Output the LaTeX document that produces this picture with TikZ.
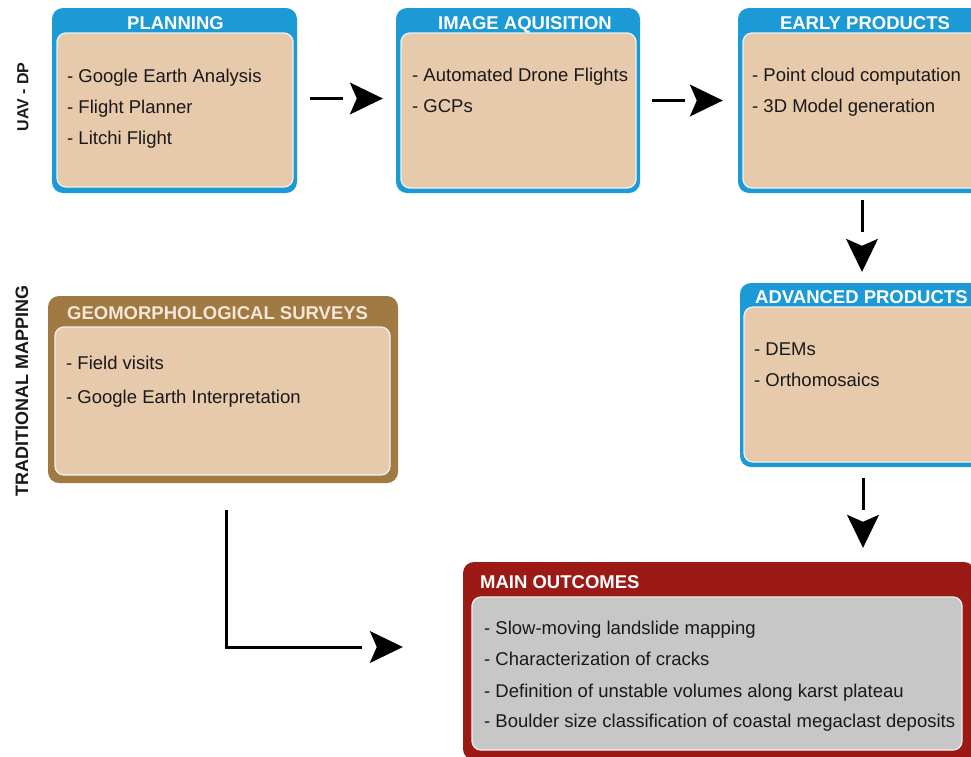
\documentclass[tikz,border=0pt]{standalone}
\usepackage{fontspec}
\setmainfont{Liberation Sans}
\usetikzlibrary{arrows.meta,calc}
\definecolor{uavblue}{RGB}{27,154,214}
\definecolor{beige}{RGB}{231,201,171}
\definecolor{brownf}{RGB}{160,121,67}
\definecolor{redf}{RGB}{155,26,22}
\definecolor{greyf}{RGB}{199,199,199}
\definecolor{txt}{RGB}{25,25,25}
\definecolor{cream}{RGB}{245,232,214}
\begin{document}
\begin{tikzpicture}[x=1pt,y=-1pt,
  outer/.style={rectangle, rounded corners=11pt, inner sep=0pt, draw=none},
  inner/.style={rectangle, rounded corners=9pt, inner sep=0pt, draw=white!88!gray, line width=1.3pt},
  title/.style={font=\bfseries\fontsize{18.5}{22}\selectfont, text=white, inner sep=0pt},
  item/.style={font=\fontsize{18.5}{22}\selectfont, text=txt, anchor=base west, inner sep=0pt},
  side/.style={font=\bfseries\fontsize{#1}{20}\selectfont, text=txt, rotate=90, inner sep=0pt},
  shaft/.style={line width=3pt, draw=black},
  head/.style={line width=1pt, draw=black, -{Stealth[length=33pt,width=32pt,inset=7pt]}}
]
\useasboundingbox (0,0) rectangle (971,756);
\fill[white] (0,0) rectangle (971,756);
\clip (0,0) rectangle (971,756);

% side labels
\node[side=16] (uavlbl) at (23,97) {UAV - DP};
\node[side=18] (tradlbl) at (22,391) {TRADITIONAL MAPPING};

% PLANNING
\node[outer, fill=uavblue, minimum width=245pt, minimum height=185pt] (plan) at (174.5,100.5) {};
\node[inner, fill=beige, minimum width=236pt, minimum height=154pt] (planin) at (175,110) {};
\node[title, anchor=base] (plant) at (175.5,29.5) {PLANNING};
\node[item] (p1) at (67,82) {- Google Earth Analysis};
\node[item] (p2) at (67,113) {- Flight Planner};
\node[item] (p3) at (67,144) {- Litchi Flight};

% IMAGE AQUISITION
\node[outer, fill=uavblue, minimum width=244pt, minimum height=185pt] (img) at (518,100.5) {};
\node[inner, fill=beige, minimum width=235pt, minimum height=155pt] (imgin) at (518.5,110.5) {};
\node[title, anchor=base] (imgt) at (525,29.5) {IMAGE AQUISITION};
\node[item] (i1) at (412,81) {- Automated Drone Flights};
\node[item] (i2) at (412,112) {- GCPs};

% EARLY PRODUCTS
\node[outer, fill=uavblue, minimum width=254pt, minimum height=185pt] (early) at (865,100.5) {};
\node[inner, fill=beige, minimum width=244pt, minimum height=155pt] (earlyin) at (865,110.5) {};
\node[title, anchor=base] (earlyt) at (865,29.5) {EARLY PRODUCTS};
\node[item] (e1) at (752,81) {- Point cloud computation};
\node[item] (e2) at (752,112) {- 3D Model generation};

% ADVANCED PRODUCTS
\node[outer, fill=uavblue, minimum width=250pt, minimum height=184pt] (adv) at (865,375) {};
\node[inner, fill=beige, minimum width=242pt, minimum height=155pt] (advin) at (865,384.5) {};
\node[title, anchor=base west] (advt) at (755,303.5) {ADVANCED PRODUCTS};
\node[item] (a1) at (754,355) {- DEMs};
\node[item] (a2) at (754,386) {- Orthomosaics};

% GEOMORPHOLOGICAL SURVEYS
\node[outer, fill=brownf, minimum width=350pt, minimum height=187pt] (geo) at (223,389.5) {};
\node[inner, fill=beige, minimum width=335pt, minimum height=148pt] (geoin) at (222.5,401) {};
\node[title, text=cream, anchor=base west] (geot) at (67,319.5) {GEOMORPHOLOGICAL SURVEYS};
\node[item] (g1) at (66,369) {- Field visits};
\node[item] (g2) at (66,403) {- Google Earth Interpretation};

% MAIN OUTCOMES
\node[outer, fill=redf, minimum width=512pt, minimum height=198pt] (main) at (719,661) {};
\node[inner, fill=greyf, minimum width=490pt, minimum height=153pt] (mainin) at (717,673.5) {};
\node[title, anchor=base west] (maint) at (480,588.5) {MAIN OUTCOMES};
\node[item] (m1) at (484,634) {- Slow-moving landslide mapping};
\node[item] (m2) at (484,665) {- Characterization of cracks};
\node[item] (m3) at (484,697) {- Definition of unstable volumes along karst plateau};
\node[item] (m4) at (484,727) {- Boulder size classification of coastal megaclast deposits};

% connectors
\draw[shaft] ($(plan.east)+(13,-2)$) -- ($(img.west)+(-53,-2)$);
\draw[head] ($(plan.east)+(60,-2)$) -- ($(img.west)+(-13,-2)$);

\draw[shaft] ($(img.east)+(12,0)$) -- ($(early.west)+(-53,0)$);
\draw[head] ($(img.east)+(57,0)$) -- ($(early.west)+(-15,0)$);

\draw[shaft] ($(early.south)+(-3,7)$) -- ($(adv.north)+(-3,-51)$);
\draw[head] ($(early.south)+(-3,53)$) -- ($(adv.north)+(-3,-11)$);

\draw[shaft] ($(adv.south)+(-2,11)$) -- ($(adv.south |- main.north)+(-2,-52)$);
\draw[head] ($(adv.south)+(-2,55)$) -- ($(adv.south |- main.north)+(-2,-14)$);

\draw[shaft] ($(geo.south)+(3,27)$) |- ($(main.west)+(-101,-14)$);
\draw[head] ($(main.west)+(-86,-14)$) -- ($(main.west)+(-60,-14)$);
\end{tikzpicture}
\end{document}
